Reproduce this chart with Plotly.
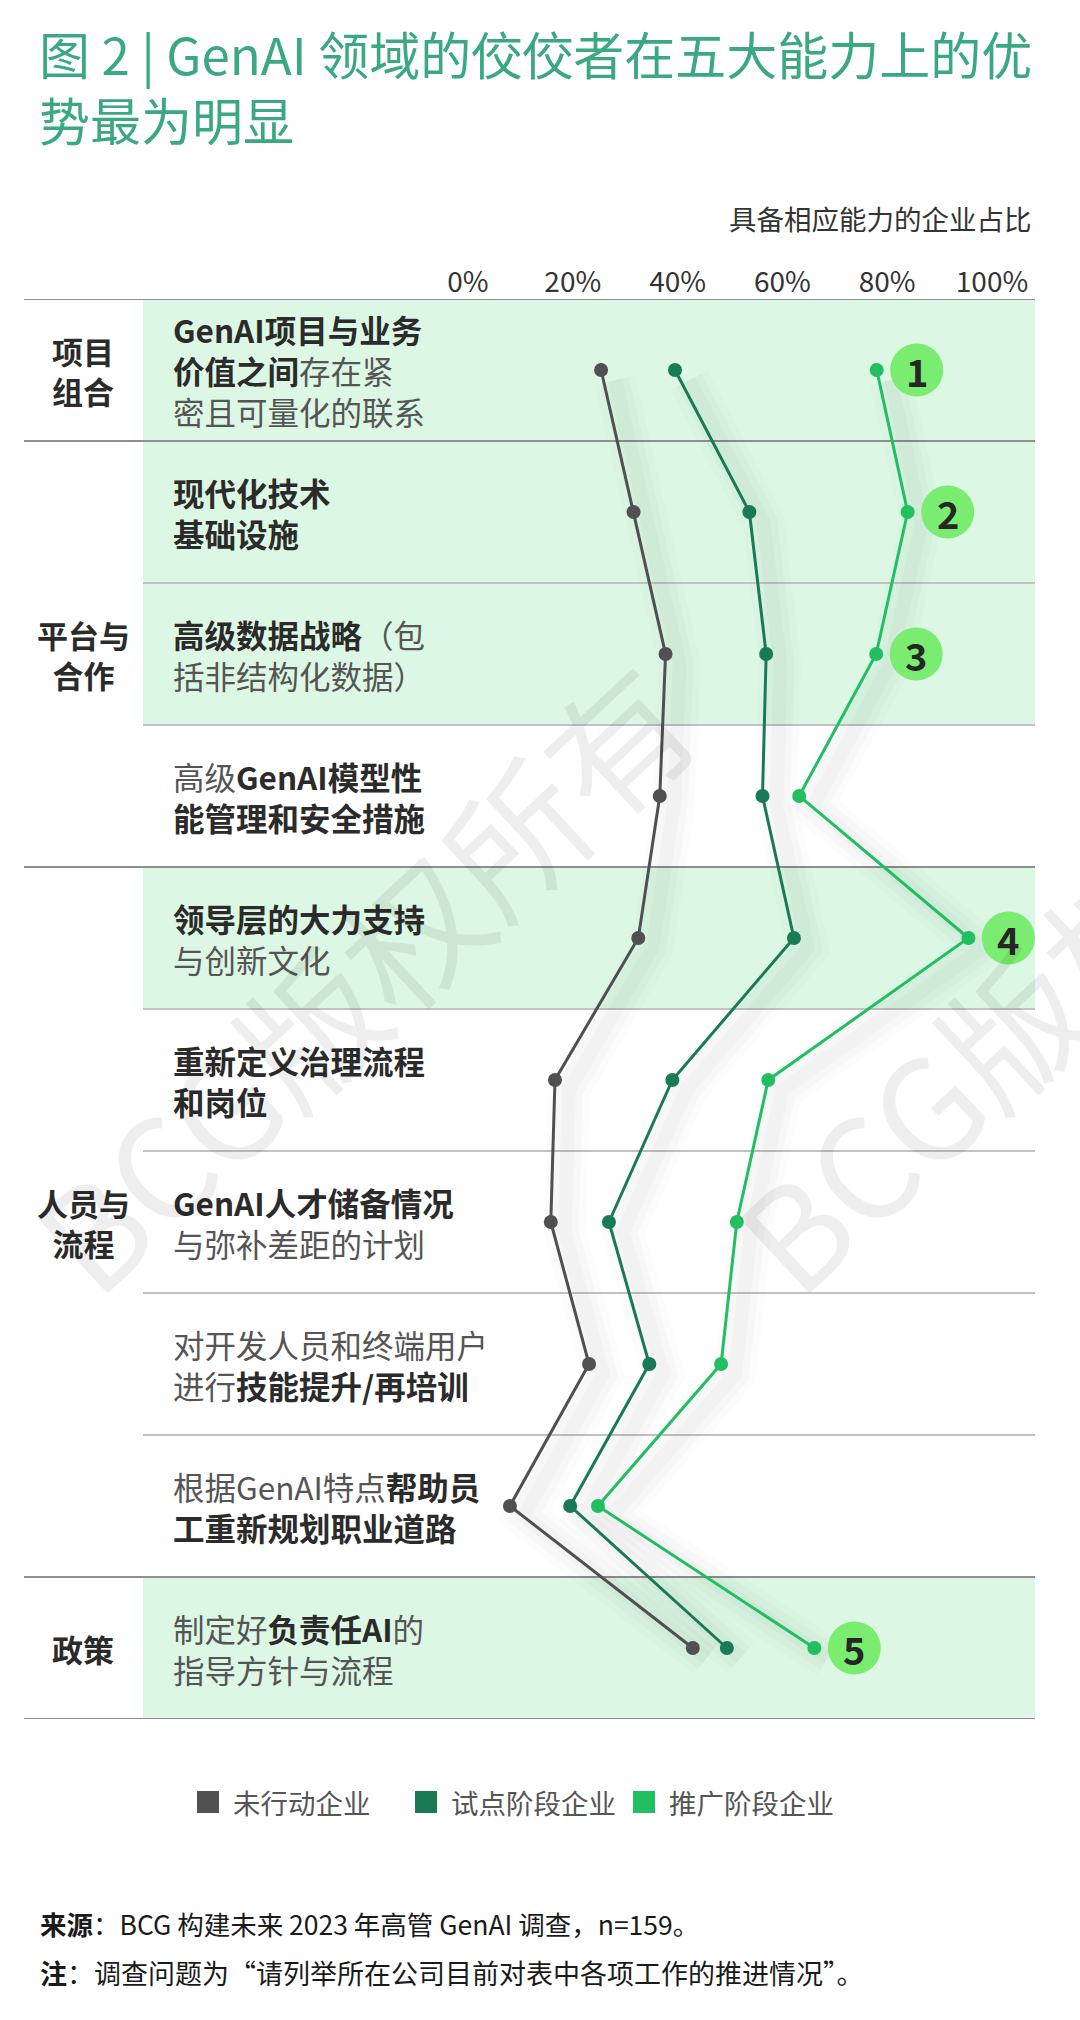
import plotly.graph_objects as go

W, H = 1080, 2020
FONT = "Noto Sans CJK SC"

# ---------------- data ----------------
item_labels = [
    "<b>GenAI项目与业务</b><br><b>价值之间</b>存在紧<br>密且可量化的联系",
    "<b>现代化技术</b><br><b>基础设施</b>",
    "<b>高级数据战略</b>（包<br>括非结构化数据）",
    "高级<b>GenAI模型性</b><br><b>能管理和安全措施</b>",
    "<b>领导层的大力支持</b><br>与创新文化",
    "<b>重新定义治理流程</b><br><b>和岗位</b>",
    "<b>GenAI人才储备情况</b><br>与弥补差距的计划",
    "对开发人员和终端用户<br>进行<b>技能提升/再培训</b>",
    "根据GenAI特点<b>帮助员</b><br><b>工重新规划职业道路</b>",
    "制定好<b>负责任AI</b>的<br>指导方针与流程",
]
group_labels = ["项目<br>组合", "平台与<br>合作", "人员与<br>流程", "政策"]
group_first_row = [0, 1, 4, 9]
group_last_row = [0, 3, 8, 9]
highlight_rows = [0, 1, 2, 4, 9]
highlight_numbers = ["1", "2", "3", "4", "5"]

series_names = ["未行动企业", "试点阶段企业", "推广阶段企业"]
not_started = [25.4, 31.6, 37.7, 36.6, 32.5, 16.6, 15.8, 23.1, 8.0, 42.9]
piloting = [39.5, 53.7, 56.9, 56.2, 62.2, 39.0, 26.9, 34.6, 19.5, 49.4]
scaling = [78.0, 83.9, 77.9, 63.2, 95.5, 57.3, 51.3, 48.3, 24.8, 66.1]

tick_vals = [0, 20, 40, 60, 80, 100]
tick_text = ["0%", "20%", "40%", "60%", "80%", "100%"]

title_text = "图 2 | GenAI 领域的佼佼者在五大能力上的优<br>势最为明显"
axis_title = "具备相应能力的企业占比"
source_text = "<b>来源</b>：BCG 构建未来 2023 年高管 GenAI 调查，n=159。"
note_text = "<b>注</b>：调查问题为“请列举所在公司目前对表中各项工作的推进情况”。"
watermark = "BCG版权所有"

# ---------------- style ----------------
colors = ["#505050", "#197A56", "#21BF61"]
shade = "#DCF7E3"
circle_col = "#7AEC70"
title_col = "#3AA981"

# pixel layout helpers
X0_PX, X100_PX = 468, 992          # 0% and 100% positions
XDOM_L, XDOM_R = 143, 1080
TOP_PX, BOT_PX = 299, 1719         # table top / bottom
LEFT_FULL, LEFT_PART, RIGHT_EDGE = 24, 143, 1035
LEGEND_SQ_X = [197, 415, 633]
LEGEND_Y, LEGEND_SQ = 1802, 22

ppu = (X100_PX - X0_PX) / 100.0
x_range = [(XDOM_L - X0_PX) / ppu, (XDOM_R - X0_PX) / ppu]
n = len(item_labels)


def px(xp):
    return xp / W


def py(yp):
    return 1 - yp / H


fig = go.Figure()

# soft drop shadows under the lines
rows = list(range(n))
for vals in (not_started, piloting, scaling):
    for width, alpha in ((42, 0.012), (28, 0.018), (14, 0.02)):
        fig.add_trace(go.Scatter(
            x=[v + 14 / ppu for v in vals], y=[r + 0.07 for r in rows],
            mode="lines", line=dict(color=f"rgba(0,0,0,{alpha})", width=width),
            hoverinfo="skip", showlegend=False))

for name, vals, col in zip(series_names, (not_started, piloting, scaling), colors):
    fig.add_trace(go.Scatter(
        x=vals, y=rows, mode="lines+markers", name=name,
        line=dict(color=col, width=3), marker=dict(color=col, size=14),
        showlegend=False))

shapes = []
# shaded rows
for r in highlight_rows:
    shapes.append(dict(type="rect", xref="paper", yref="y", x0=px(LEFT_PART), x1=px(RIGHT_EDGE),
                       y0=r - 0.5, y1=r + 0.5, fillcolor=shade, line=dict(width=0), layer="below"))
# separators
group_edges = set([g - 0.5 for g in group_first_row] + [g + 0.5 for g in group_last_row])
for b in range(n + 1):
    yb = b - 0.5
    full = yb in group_edges
    shapes.append(dict(type="line", xref="paper", yref="y",
                       x0=px(LEFT_FULL if full else LEFT_PART), x1=px(RIGHT_EDGE),
                       y0=yb, y1=yb,
                       line=dict(color="#8f8f8f" if full else "#c2c2c2", width=2),
                       layer="below"))
# number badges
for r, num in zip(highlight_rows, highlight_numbers):
    shapes.append(dict(type="circle", xref="x", yref="y", xsizemode="pixel", ysizemode="pixel",
                       xanchor=scaling[r], yanchor=r, x0=40 - 26.5, x1=40 + 26.5, y0=-26.5, y1=26.5,
                       fillcolor=circle_col, line=dict(width=0), layer="above"))
# legend squares
for sx, col in zip(LEGEND_SQ_X, colors):
    shapes.append(dict(type="rect", xref="paper", yref="paper",
                       x0=px(sx), x1=px(sx + LEGEND_SQ),
                       y0=py(LEGEND_Y + LEGEND_SQ / 2), y1=py(LEGEND_Y - LEGEND_SQ / 2),
                       fillcolor=col, line=dict(width=0)))

ann = []
# title
ann.append(dict(text=title_text, xref="paper", yref="paper", x=px(37), y=py(86),
                xanchor="left", yanchor="middle", align="left", showarrow=False,
                font=dict(family=FONT, size=51, color=title_col)))
ann.append(dict(text=axis_title, xref="paper", yref="paper", x=px(1034), y=py(218),
                xanchor="right", yanchor="middle", showarrow=False,
                font=dict(family=FONT, size=27.5, color="#333333")))
# item labels
for r, lab in enumerate(item_labels):
    lab = lab.replace("<b>", '<b><span style="color:#2b2b2b">').replace("</b>", "</span></b>")
    ann.append(dict(text=lab, xref="paper", yref="y", x=px(171), y=r,
                    xanchor="left", yanchor="middle", align="left", showarrow=False,
                    font=dict(family=FONT, size=31.5, color="#555555")))
# group labels
for g, f, l in zip(group_labels, group_first_row, group_last_row):
    ann.append(dict(text="<b>" + g + "</b>", xref="paper", yref="y", x=px(83), y=(f + l) / 2,
                    xanchor="center", yanchor="middle", align="center", showarrow=False,
                    font=dict(family=FONT, size=31, color="#2b2b2b")))
# badge numbers
for r, num in zip(highlight_rows, highlight_numbers):
    ann.append(dict(text="<b>" + num + "</b>", xref="x", yref="y", x=scaling[r], y=r,
                    xshift=40, yshift=0, showarrow=False,
                    font=dict(family=FONT, size=38, color="#262626")))
# legend texts
for sx, name in zip(LEGEND_SQ_X, series_names):
    ann.append(dict(text=name, xref="paper", yref="paper", x=px(sx + LEGEND_SQ + 12), y=py(LEGEND_Y),
                    xanchor="left", yanchor="middle", showarrow=False,
                    font=dict(family=FONT, size=27.5, color="#555555")))
# footer
ann.append(dict(text=source_text, xref="paper", yref="paper", x=px(38), y=py(1923),
                xanchor="left", yanchor="middle", showarrow=False,
                font=dict(family=FONT, size=26.5, color="#1a1a1a")))
ann.append(dict(text=note_text, xref="paper", yref="paper", x=px(38), y=py(1972),
                xanchor="left", yanchor="middle", showarrow=False,
                font=dict(family=FONT, size=27, color="#1a1a1a")))
# watermark
for cx, cy in ((360, 975), (1062, 975)):
    ann.append(dict(text=watermark, xref="paper", yref="paper", x=px(cx), y=py(cy),
                    xanchor="center", yanchor="middle", showarrow=False, textangle=-43,
                    font=dict(family=FONT, size=140, color="rgba(0,0,0,0.065)")))

fig.update_layout(
    width=W, height=H, margin=dict(l=0, r=0, t=0, b=0),
    paper_bgcolor="white", plot_bgcolor="rgba(0,0,0,0)",
    font=dict(family=FONT),
    shapes=shapes, annotations=ann, showlegend=False,
    xaxis=dict(domain=[px(XDOM_L), px(XDOM_R)], range=x_range, side="top",
               tickvals=tick_vals, ticktext=tick_text, ticks="", showgrid=False,
               zeroline=False, showline=False,
               tickfont=dict(family=FONT, size=28, color="#333333")),
    yaxis=dict(domain=[py(BOT_PX), py(TOP_PX)], range=[n - 0.5, -0.5],
               visible=False, showgrid=False, zeroline=False),
    hovermode=False,
)

fig.write_html("out.html", config={"displayModeBar": False},
               post_script="document.body.style.margin='0px';")
